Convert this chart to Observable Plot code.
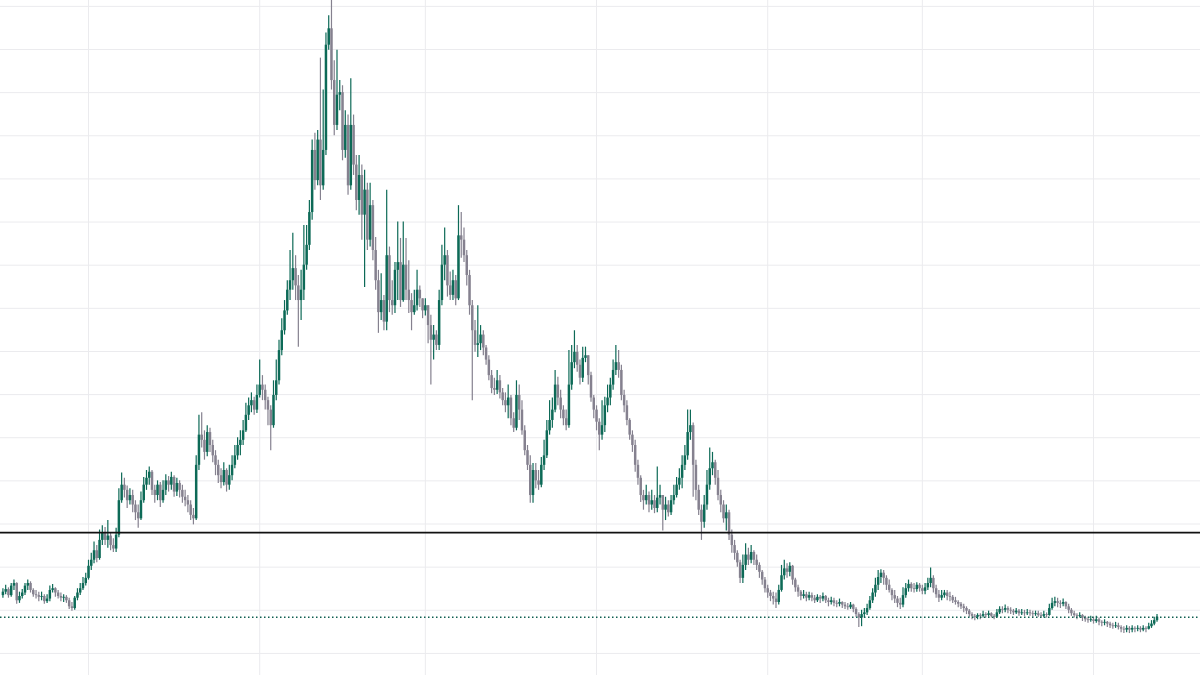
<!DOCTYPE html>
<html><head><meta charset="utf-8">
<script src="https://cdn.jsdelivr.net/npm/d3@7"></script>
<script src="https://cdn.jsdelivr.net/npm/@observablehq/plot@0.6"></script>
<style>html,body{margin:0;padding:0;background:#fff;overflow:hidden}#chart svg{display:block}</style>
</head><body><div id="chart"></div>
<script>
// 12-hour candles, open = previous close
const startTime = "2021-09-15T12:00:00Z";
const intervalHours = 12;
const firstOpen = 117;
const closes = [
121,124,117,128,131,111,116,120,128,131,
123,118,117,115,116,110,113,123,125,120,
116,114,115,111,104,102,114,120,125,131,
137,151,158,169,160,181,190,181,186,175,
171,187,227,245,239,227,233,222,213,206,
227,245,253,260,239,233,245,227,239,250,
245,254,237,247,239,231,227,222,210,206,
268,303,297,283,306,291,279,268,256,248,
262,245,256,268,279,291,297,308,326,337,
343,332,349,361,355,343,332,314,349,366,
401,424,447,471,482,496,476,459,471,500,
523,561,633,598,645,592,633,755,774,714,
662,697,700,633,662,592,662,616,575,604,
558,587,529,569,517,482,445,459,434,511,
459,453,494,503,459,500,471,459,445,453,
471,461,447,453,430,413,419,407,459,500,
511,476,465,482,461,534,529,511,488,453,
424,407,409,419,404,390,372,357,355,366,
352,343,337,346,322,311,349,332,308,285,
268,233,262,250,245,268,279,308,320,332,
361,346,332,322,314,361,387,399,384,369,
392,395,372,346,332,318,303,314,337,346,
361,378,387,378,349,337,320,303,291,268,
253,233,227,233,222,227,218,230,233,216,
222,213,227,233,245,253,268,279,306,314,
268,239,216,202,222,245,264,271,253,233,
222,206,213,187,175,166,155,137,152,164,
158,167,158,152,144,135,125,120,116,113,
109,123,140,148,144,151,135,126,121,116,
118,114,117,114,111,115,113,116,111,109,
111,108,107,109,106,104,103,106,101,95,
91,95,97,102,111,120,129,138,143,137,
129,123,117,113,108,106,117,125,130,125,
124,129,125,122,126,131,137,125,118,114,
117,120,116,115,111,109,107,104,102,99,
95,93,92,94,93,95,94,96,93,92,
97,101,100,102,100,99,97,99,96,97,
96,97,96,95,96,94,93,95,94,102,
108,110,108,107,109,104,100,96,94,93,
94,91,89,88,89,87,89,86,85,86,
84,82,81,82,80,78,77,79,77,79,
78,79,77,79,78,81,84,88,92
];
const highs = [
125,129,126,131,135,132,121,124,131,135,
133,125,123,121,121,118,118,128,130,126,
123,120,118,117,114,109,116,125,131,138,
143,158,166,179,175,193,198,196,204,190,
183,195,241,259,253,244,241,239,227,222,
237,254,262,266,262,245,250,248,250,257,
255,260,256,253,250,245,239,233,227,218,
279,326,329,308,314,311,297,285,274,264,
271,264,268,279,291,300,308,320,340,346,
352,347,361,390,372,361,347,337,366,390,
413,438,459,482,517,537,511,488,494,546,
546,575,645,653,656,740,703,769,789,807,
737,749,714,708,679,674,716,674,627,627,
616,610,595,595,575,532,494,490,465,587,
521,482,503,550,531,550,531,505,467,471,
494,476,459,461,453,442,430,424,471,523,
543,517,492,494,488,569,561,543,517,494,
459,436,453,430,424,407,395,378,369,378,
372,357,352,361,349,329,366,361,343,314,
291,279,270,270,262,277,297,320,343,346,
378,370,355,337,332,401,407,424,407,390,
405,405,395,376,349,337,322,343,347,361,
369,390,407,401,384,355,343,322,308,297,
274,256,239,245,237,239,233,266,245,233,
231,227,233,245,254,264,279,291,332,332,
317,274,245,222,233,262,288,283,274,262,
239,227,222,216,193,181,169,158,164,177,
172,175,169,164,155,146,138,129,123,121,
120,129,152,158,154,155,152,137,129,123,
123,121,121,120,117,118,117,120,117,114,
115,114,111,113,110,109,108,109,107,103,
97,100,102,107,116,125,137,146,147,146,
140,135,125,123,116,114,126,131,135,132,
131,132,131,129,131,137,149,140,129,123,
123,123,123,121,117,115,111,109,107,104,
101,97,95,96,96,99,97,99,97,95,
101,104,104,106,104,103,101,102,101,101,
100,101,100,99,99,99,97,99,97,107,
114,115,114,111,113,110,107,102,99,96,
97,95,93,92,93,92,93,91,88,89,
87,86,85,86,85,82,81,82,81,82,
81,82,81,82,81,85,88,92,95
];
const lows = [
114,118,114,115,123,107,108,113,117,123,
120,115,113,110,111,107,108,110,120,115,
113,110,109,108,101,99,100,111,117,123,
128,135,146,154,155,158,175,175,172,169,
167,167,184,224,230,218,222,213,204,195,
204,224,239,245,233,224,227,219,224,233,
237,239,231,232,230,224,220,213,204,199,
204,262,288,274,278,283,271,256,247,241,
244,237,239,250,264,274,279,291,306,320,
329,326,328,346,343,332,314,285,311,343,
361,395,419,442,459,471,459,405,436,459,
494,517,552,587,592,575,587,627,749,703,
650,656,679,621,624,581,587,604,563,558,
529,474,517,521,505,471,421,436,424,424,
445,442,444,459,451,457,459,444,424,442,
447,451,438,441,409,361,390,401,401,453,
482,463,459,459,453,459,508,503,476,442,
343,399,393,401,395,384,366,351,349,350,
345,337,329,322,314,306,308,320,303,279,
262,224,224,241,239,242,262,276,303,311,
329,337,322,314,308,311,355,380,376,361,
364,387,361,341,322,308,285,297,306,329,
337,355,372,369,343,329,314,297,283,260,
245,225,216,222,213,216,212,213,222,192,
204,208,210,222,230,239,241,262,274,297,
231,227,210,181,195,216,239,256,245,227,
213,201,192,181,166,158,150,131,131,146,
152,154,152,146,137,129,120,114,110,106,
102,106,121,135,137,139,129,121,115,111,
113,110,111,110,108,109,108,110,108,104,
106,104,103,104,102,101,100,101,97,92,
80,81,91,94,100,108,115,123,131,129,
123,120,111,108,103,101,103,114,121,121,
120,121,121,118,118,123,126,120,114,109,
111,114,111,110,108,106,103,101,97,95,
92,89,88,89,89,91,91,92,91,89,
91,95,96,97,96,95,94,95,93,94,
93,94,93,92,93,92,91,91,91,93,
100,104,103,102,104,101,96,93,91,89,
91,87,86,85,86,84,85,82,81,82,
80,79,78,79,77,74,73,74,73,74,
74,75,74,75,74,77,79,82,86
];
const levelLine = 190;
const priceTicks = [50,100,150,200,250,300,350,400,450,500,550,600,650,700,750,800];
const monthTicks = ["2021-10-01","2021-11-01","2021-12-01","2022-01-01","2022-02-01","2022-03-01","2022-04-01"];
const xDomain = ["2021-09-15T01:30:00Z","2022-04-20T09:00:00Z"];
const yDomain = [24.4, 806.8];

const upColor = "#0d6a57";
const downColor = "#85818f";

const t0 = new Date(startTime);
const candles = closes.map((c, i) => {
  const o = i === 0 ? firstOpen : closes[i - 1];
  return {
    date: d3.utcHour.offset(t0, i * intervalHours),
    open: o, close: c,
    high: Math.max(highs[i], o, c),
    low: Math.min(lows[i], o, c)
  };
});
const up = candles.filter(d => d.close >= d.open);
const down = candles.filter(d => d.close < d.open);
const lastClose = closes[closes.length - 1];

const chart = Plot.plot({
  width: 1200,
  height: 675,
  margin: 0,
  style: {background: "#ffffff"},
  x: {type: "utc", domain: xDomain.map(s => new Date(s)), axis: null},
  y: {domain: yDomain, axis: null},
  marks: [
    Plot.ruleX(monthTicks.map(s => new Date(s + "T00:00:00Z")), {stroke: "#ebebee", strokeWidth: 1}),
    Plot.ruleY(priceTicks, {stroke: "#ebebee", strokeWidth: 1}),
    Plot.ruleX(down, {x: "date", y1: "low", y2: "high", stroke: downColor, strokeWidth: 1.2}),
    Plot.ruleX(down, {x: "date", y1: "open", y2: "close", stroke: downColor, strokeWidth: 2.5}),
    Plot.ruleX(up, {x: "date", y1: "low", y2: "high", stroke: upColor, strokeWidth: 1.2}),
    Plot.ruleX(up, {x: "date", y1: "open", y2: "close", stroke: upColor, strokeWidth: 2.5}),
    Plot.ruleY([levelLine], {stroke: "#111111", strokeWidth: 1.6}),
    Plot.ruleY([lastClose], {stroke: "#0f5f50", strokeWidth: 1.5, strokeDasharray: "1.5,2.5"})
  ]
});
document.getElementById("chart").appendChild(chart);
</script>
</body></html>
